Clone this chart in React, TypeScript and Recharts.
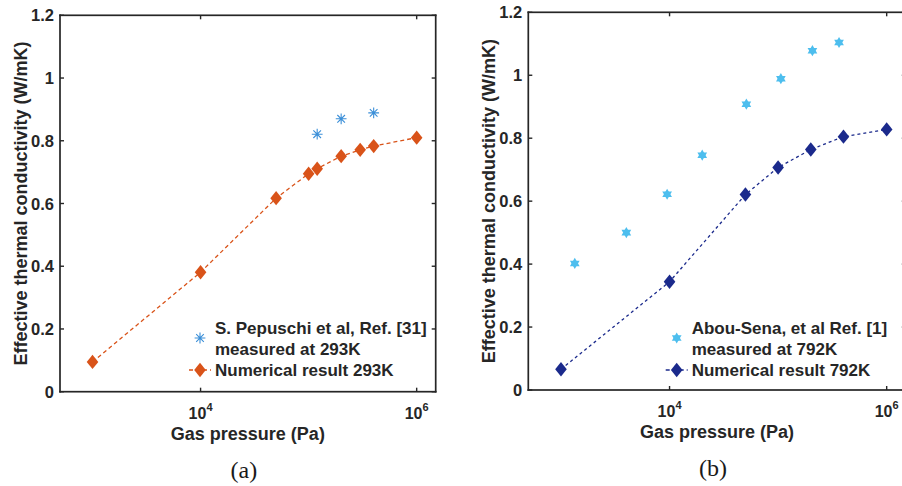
import React from 'react';
import { ComposedChart, Line, Scatter, XAxis, YAxis, Legend, ReferenceArea } from 'recharts';

// (a) 293K
const pressureA = [1000, 10000, 50000, 100000, 120000, 200000, 300000, 400000, 1000000];
const numericalA = [0.095, 0.381, 0.617, 0.695, 0.711, 0.751, 0.771, 0.783, 0.81];
const measuredPressureA = [120000, 200000, 400000];
const measuredA = [0.821, 0.87, 0.889];

// (b) 792K
const pressureB = [1000, 10000, 50000, 100000, 200000, 400000, 1000000];
const numericalB = [0.066, 0.344, 0.621, 0.707, 0.764, 0.805, 0.828];
const measuredPressureB = [1340, 4000, 9500, 20000, 51000, 106000, 207000, 364000];
const measuredB = [0.402, 0.5, 0.622, 0.746, 0.908, 0.989, 1.078, 1.104];

const yTicks = [0, 0.2, 0.4, 0.6, 0.8, 1, 1.2];
const xTicks = [10000, 1000000];
const xDomain = [500, 1500000];
const yDomain = [0, 1.2];

const AXIS = '#262626';
const TEXT = '#262626';
const FONT = '"Liberation Sans", Arial, sans-serif';
const ORANGE = '#d95319';
const NAVY = '#1b2a8c';
const ASTER_BLUE = '#3b8fd8';
const STAR_BLUE = '#4dbeee';

const toRows = (xs: number[], ys: number[], key: string) => xs.map((p, i) => ({ p, [key]: ys[i] }));

// tick anchors on the edges of the plot box, built from the axis domains
const leftTickRows = toRows(yTicks.map(() => xDomain[0]), yTicks, 'tl');
const rightTickRows = toRows(yTicks.map(() => xDomain[1]), yTicks, 'tr');
const bottomTickRows = toRows(xTicks, xTicks.map(() => yDomain[0]), 'tb');
const topTickRows = toRows(xTicks, xTicks.map(() => yDomain[1]), 'tt');

const Diamond = ({ cx, cy, fill }: any) => (
  <path d={`M${cx},${cy - 7.2} L${cx + 5.8},${cy} L${cx},${cy + 7.2} L${cx - 5.8},${cy} Z`} fill={fill} />
);

const Asterisk = ({ cx, cy }: any) => {
  const r = 5.4;
  const d = r * 0.707;
  return (
    <path
      d={`M${cx - r},${cy} L${cx + r},${cy} M${cx},${cy - r} L${cx},${cy + r} M${cx - d},${cy - d} L${cx + d},${cy + d} M${cx - d},${cy + d} L${cx + d},${cy - d}`}
      stroke={ASTER_BLUE}
      strokeWidth={1.1}
      fill="none"
    />
  );
};

const Hexagram = ({ cx, cy }: any) => {
  const r = 5.6;
  const h = r * 0.866;
  return (
    <g fill={STAR_BLUE}>
      <path d={`M${cx},${cy - r} L${cx + h},${cy + r / 2} L${cx - h},${cy + r / 2} Z`} />
      <path d={`M${cx},${cy + r} L${cx - h},${cy - r / 2} L${cx + h},${cy - r / 2} Z`} />
    </g>
  );
};

// plot frame drawn as four filled bars around the area the library gives
const FrameShape = (props: any) => {
  const x = Number(props.x);
  const y = Number(props.y);
  const w = Number(props.width);
  const h = Number(props.height);
  const t = 1.7;
  return (
    <g fill={AXIS}>
      <rect x={x - t / 2} y={y - t / 2} width={w + t} height={t} />
      <rect x={x - t / 2} y={y + h - t / 2} width={w + t} height={t} />
      <rect x={x - t / 2} y={y - t / 2} width={t} height={h + t} />
      <rect x={x + w - t / 2} y={y - t / 2} width={t} height={h + t} />
    </g>
  );
};

const tickMark = (dx: number, dy: number) => (props: any) => {
  const cx = Number(props.cx);
  const cy = Number(props.cy);
  const t = 1.4;
  const x = dx !== 0 ? Math.min(cx, cx + dx) : cx - t / 2;
  const y = dy !== 0 ? Math.min(cy, cy + dy) : cy - t / 2;
  return (
    <rect x={x} y={y} width={dx !== 0 ? Math.abs(dx) : t} height={dy !== 0 ? Math.abs(dy) : t} fill={AXIS} />
  );
};

const textStyle = { fontFamily: FONT, fontWeight: 700, fill: TEXT };

const YTickLeft = (props: any) => {
  const { x, y, payload } = props;
  return (
    <text x={x} y={y} textAnchor="end" dominantBaseline="central" fontSize={16.5} {...textStyle}>
      {String(payload.value)}
    </text>
  );
};

const XTickBottom = (props: any) => {
  const { x, y, payload } = props;
  const exp = Math.round(Math.log10(payload.value));
  return (
    <text x={x} y={Number(y) + 27} textAnchor="middle" fontSize={16} {...textStyle}>
      10
      <tspan dy={-8} fontSize={11}>{exp}</tspan>
    </text>
  );
};

const makeXTitle = (caption: string) => (props: any) => {
  const { x, y, width } = props.viewBox;
  const cx = Number(x) + Number(width) / 2;
  const top = Number(y);
  return (
    <g>
      <text x={cx} y={top + 48} textAnchor="middle" fontSize={18} {...textStyle}>
        Gas pressure (Pa)
      </text>
      <text
        x={cx - 4}
        y={top + 86}
        textAnchor="middle"
        fontSize={24}
        fontFamily='"Liberation Serif", "Times New Roman", serif'
        fill="#1a1a1a"
      >
        {caption}
      </text>
    </g>
  );
};

const yTitle = (props: any) => {
  const { x, y, width, height } = props.viewBox;
  const cx = Number(x) + Number(width) - 39.5;
  const cy = Number(y) + Number(height) / 2;
  return (
    <text
      x={cx}
      y={cy}
      textAnchor="middle"
      dominantBaseline="central"
      transform={`rotate(-90, ${cx}, ${cy})`}
      fontSize={18}
      {...textStyle}
    >
      Effective thermal conductivity (W/mK)
    </text>
  );
};

const makeLegend = (
  line1: string,
  line2: string,
  line3: string,
  color: string,
  Marker: any,
  textX: number,
  markX: number
) => () => (
  <svg width={260} height={64} style={{ overflow: 'visible', display: 'block' }}>
    <Marker cx={markX} cy={20} />
    <text x={textX} y={10} dominantBaseline="central" fontSize={17} {...textStyle}>
      {line1}
    </text>
    <text x={textX} y={31} dominantBaseline="central" fontSize={17} {...textStyle}>
      {line2}
    </text>
    <line x1={markX - 11} x2={markX + 11} y1={52} y2={52} stroke={color} strokeWidth={1.3} strokeDasharray="4 3" />
    <Diamond cx={markX} cy={52} fill={color} />
    <text x={textX} y={52} dominantBaseline="central" fontSize={17} {...textStyle}>
      {line3}
    </text>
  </svg>
);

type PanelProps = {
  left: number;
  width: number;
  margin: { top: number; right: number; bottom: number; left: number };
  xAxisHeight: number;
  numerical: any[];
  measured: any[];
  color: string;
  dash: string;
  Marker: any;
  legend: () => React.ReactElement;
  legendPos: { left: number; top: number };
  caption: string;
};

const Panel = ({
  left,
  width,
  margin,
  xAxisHeight,
  numerical,
  measured,
  color,
  dash,
  Marker,
  legend,
  legendPos,
  caption,
}: PanelProps) => (
  <div style={{ position: 'absolute', left, top: 0 }}>
    <ComposedChart width={width} height={486} margin={margin}>
      <XAxis
        dataKey="p"
        type="number"
        scale="log"
        domain={xDomain}
        ticks={xTicks}
        height={xAxisHeight}
        tickSize={0}
        tickMargin={0}
        tickLine={false}
        tick={XTickBottom}
        axisLine={false}
        label={makeXTitle(caption)}
      />
      <YAxis
        type="number"
        domain={yDomain}
        ticks={yTicks}
        width={60}
        tickSize={0}
        tickMargin={6}
        tickLine={false}
        tick={YTickLeft}
        axisLine={false}
        label={yTitle}
      />
      <ReferenceArea
        x1={xDomain[0]}
        x2={xDomain[1]}
        y1={yDomain[0]}
        y2={yDomain[1]}
        ifOverflow="visible"
        shape={FrameShape}
      />
      <Scatter data={leftTickRows} dataKey="tl" shape={tickMark(4, 0)} isAnimationActive={false} />
      <Scatter data={rightTickRows} dataKey="tr" shape={tickMark(-4, 0)} isAnimationActive={false} />
      <Scatter data={bottomTickRows} dataKey="tb" shape={tickMark(0, -4)} isAnimationActive={false} />
      <Scatter data={topTickRows} dataKey="tt" shape={tickMark(0, 4)} isAnimationActive={false} />
      <Line
        data={numerical}
        dataKey="k"
        type="linear"
        stroke={color}
        strokeWidth={1.3}
        strokeDasharray={dash}
        dot={(props: any) => <Diamond key={`d-${props.index}`} cx={props.cx} cy={props.cy} fill={color} />}
        activeDot={false}
        isAnimationActive={false}
      />
      <Scatter
        data={measured}
        dataKey="m"
        shape={(props: any) => <Marker cx={props.cx} cy={props.cy} />}
        isAnimationActive={false}
      />
      <Legend
        layout="horizontal"
        verticalAlign="middle"
        align="center"
        content={legend}
        wrapperStyle={{ left: legendPos.left, top: legendPos.top, width: 260, height: 64 }}
      />
    </ComposedChart>
  </div>
);

export default function App() {
  return (
    <div
      style={{
        position: 'absolute',
        left: 0,
        top: 0,
        width: 902,
        height: 486,
        overflow: 'hidden',
        background: '#fff',
      }}
    >
      <Panel
        left={0}
        width={450}
        margin={{ top: 15.3, right: 14.3, bottom: 0, left: 0 }}
        xAxisHeight={94.3}
        numerical={toRows(pressureA, numericalA, 'k')}
        measured={toRows(measuredPressureA, measuredA, 'm')}
        color={ORANGE}
        dash="4 3"
        Marker={Asterisk}
        legend={makeLegend(
          'S. Pepuschi et al, Ref. [31]',
          'measured at 293K',
          'Numerical result 293K',
          ORANGE,
          Asterisk,
          30,
          15
        )}
        legendPos={{ left: 185, top: 318 }}
        caption="(a)"
      />
      <Panel
        left={450}
        width={470}
        margin={{ top: 12.3, right: 14.2, bottom: 0, left: 18.3 }}
        xAxisHeight={96}
        numerical={toRows(pressureB, numericalB, 'k')}
        measured={toRows(measuredPressureB, measuredB, 'm')}
        color={NAVY}
        dash="3 3"
        Marker={Hexagram}
        legend={makeLegend(
          'Abou-Sena, et al Ref. [1]',
          'measured at 792K',
          'Numerical result 792K',
          NAVY,
          Hexagram,
          31.7,
          16.7
        )}
        legendPos={{ left: 210, top: 318 }}
        caption="(b)"
      />
    </div>
  );
}
